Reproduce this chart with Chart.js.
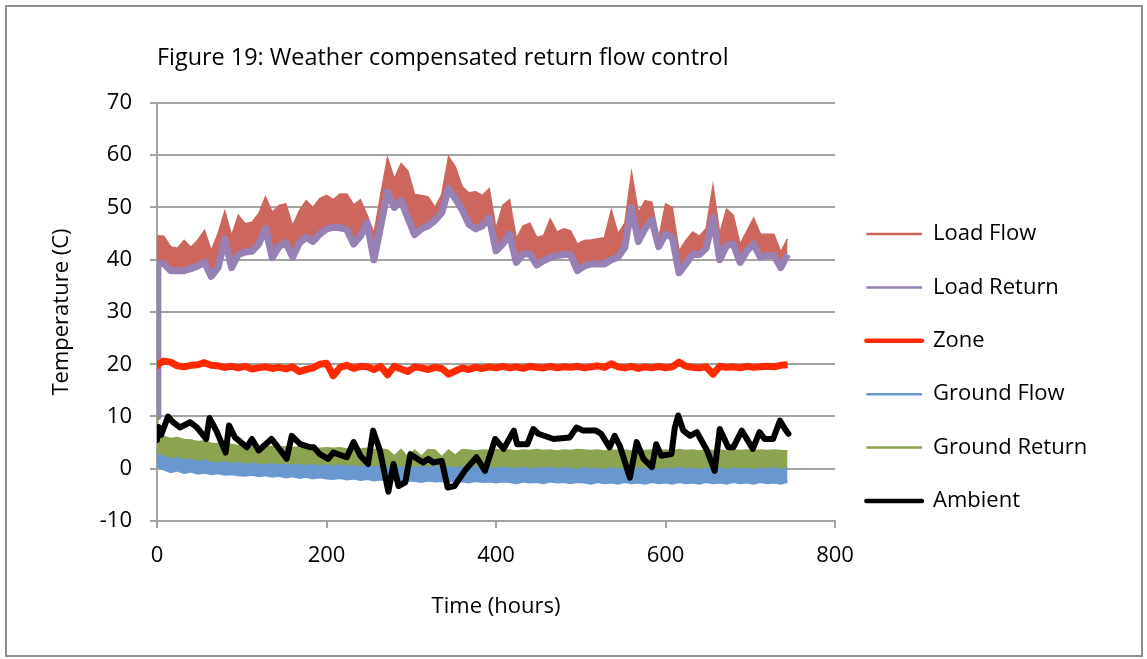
<!DOCTYPE html>
<html>
<head>
<meta charset="utf-8">
<script src="https://cdn.jsdelivr.net/npm/chart.js"></script>
<style>
  html, body { margin: 0; padding: 0; background: #fff; }
  #frame { position: absolute; left: 5px; top: 5px; width: 1134px; height: 648px; border: 2px solid #8e8e8e; }
  #chart { position: absolute; left: 0; top: 0; }
</style>
</head>
<body>
<div id="frame"></div>
<canvas id="chart" width="1147" height="659"></canvas>
<script>
// sample times (hours) shared by the banded series
const hours = [0, 1, 8, 16, 24, 32, 40, 48, 56, 64, 72, 80, 88, 96, 104, 112, 120, 128, 136, 144,
  152, 160, 168, 176, 184, 192, 200, 208, 216, 224, 232, 240, 248, 256, 264, 272, 280, 288, 296, 304,
  312, 320, 328, 336, 344, 352, 360, 368, 376, 384, 392, 400, 408, 416, 424, 432, 440, 448, 456, 464,
  472, 480, 488, 496, 504, 512, 520, 528, 536, 544, 552, 560, 568, 576, 584, 592, 600, 608, 616, 624,
  632, 640, 648, 656, 664, 672, 680, 688, 696, 704, 712, 720, 728, 736, 744];

// upper edge of the load flow band
const loadFlow = [12, 44.6, 44.5, 42.5, 42.2, 43.7, 42.4, 43.7, 45.6, 41.7, 45, 49.3, 44.6, 48.5, 46.9, 47.2, 48.8, 52, 49.1, 50.4,
  50.7, 46.5, 49.4, 51.3, 50, 51.7, 52.3, 51.5, 52.6, 52.6, 50.5, 51.5, 48.5, 45, 52.5, 59.5, 55.5, 58.4, 57, 52.5,
  52.3, 52, 50, 52.5, 59.7, 57.8, 54, 52.8, 53, 52.3, 53.6, 46, 50.4, 51.5, 44, 46.5, 47, 44.3, 44.6, 47.8,
  45.3, 45.9, 45.5, 43, 43.7, 43.8, 44, 44.2, 49.5, 45, 47, 56.7, 49, 51.3, 51, 44, 50.7, 50, 41.7, 43.7,
  45.3, 44.5, 46, 54.2, 45, 49.7, 48.5, 43, 45.5, 48, 44.9, 44.9, 44.9, 41.5, 44];

const loadReturn = [10, 39.3, 39.3, 37.9, 37.9, 37.9, 38.3, 38.8, 39.5, 36.8, 38.5, 44, 38.5, 41, 41.5, 41.6, 43, 46, 40.4, 42.5,
  43.3, 40.5, 43.2, 44.3, 43.5, 44.9, 45.9, 46.2, 46.1, 45.8, 43, 44.5, 47, 40, 46.5, 53, 50, 51.3, 48, 44.8,
  45.9, 46.5, 47.5, 49, 53.6, 51.7, 49.6, 46.8, 45.9, 46.5, 48, 41.7, 43, 44.9, 39.5, 41.1, 41.1, 39, 39.8, 40.4,
  40.8, 41, 41, 37.9, 38.8, 39.2, 39.2, 39.2, 40, 40.5, 42.4, 50, 43.5, 46, 47.6, 42.5, 44.9, 44.3, 37.5, 39.2,
  41, 41, 42.2, 48.1, 40, 42.7, 43, 39.5, 41.7, 43, 40.5, 40.8, 40.8, 38.5, 41];

const zone = [19.8, 20.0, 20.6, 20.4, 19.7, 19.5, 19.8, 19.9, 20.3, 19.8, 19.7, 19.4, 19.6, 19.3, 19.6, 19.1, 19.3, 19.5, 19.2, 19.4,
  19.1, 19.5, 18.6, 19.0, 19.3, 20.0, 20.2, 17.8, 19.4, 19.8, 19.2, 19.6, 19.5, 19.0, 19.6, 18.0, 19.6, 19.1, 18.6, 19.5,
  19.3, 19.0, 19.4, 19.2, 18.1, 18.7, 19.3, 19.0, 19.4, 19.2, 19.5, 19.3, 19.6, 19.3, 19.5, 19.2, 19.6, 19.4, 19.3, 19.6,
  19.3, 19.5, 19.4, 19.6, 19.3, 19.5, 19.7, 19.4, 20.1, 19.5, 19.3, 19.6, 19.2, 19.5, 19.3, 19.6, 19.3, 19.5, 20.4, 19.6,
  19.4, 19.3, 19.5, 18.1, 19.6, 19.4, 19.5, 19.3, 19.6, 19.4, 19.5, 19.6, 19.5, 19.8, 19.9];

// ground loop: top of the flow band, bottom of the flow band, top of the return band
const groundFlowTop = [4.5, 2.8, 2.6, 2.0, 2.3, 1.8, 2.0, 1.5, 1.8, 1.4, 1.2, 1.5, 1.1, 1.3, 1.0, 1.2, 1.0, 0.9, 1.1, 0.8,
  1.0, 0.8, 0.9, 0.7, 0.9, 0.7, 0.8, 0.6, 0.8, 0.6, 0.7, 0.5, 0.7, 0.5, 0.6, 0.5, 0.6, 0.4, 0.6, 0.4,
  0.5, 0.4, 0.6, 0.3, 0.5, 0.3, 0.5, 0.2, 0.4, 0.3, 0.4, 0.2, 0.4, 0.3, 0.2, 0.4, 0.1, 0.3, 0.2, 0.4,
  0.1, 0.3, 0.2, 0.0, 0.3, 0.1, 0.2, 0.0, 0.3, 0.1, 0.2, 0.0, 0.3, 0.1, 0.2, 0.0, 0.2, 0.1, 0.4, 0.1,
  0.2, 0.0, 0.2, 0.1, 0.3, 0.0, 0.2, 0.1, 0.2, 0.0, 0.2, 0.1, 0.3, 0.0, 0.2];

const groundFlowLow = [3.5, 0.3, -0.2, -0.7, -0.4, -0.9, -0.6, -1.0, -0.8, -1.1, -0.9, -1.2, -1.1, -1.3, -1.4, -1.2, -1.5, -1.3, -1.6, -1.4,
  -1.7, -1.5, -1.8, -1.6, -1.9, -1.7, -1.9, -2.0, -1.8, -2.1, -1.9, -2.2, -2.0, -2.3, -2.1, -2.4, -2.2, -2.5, -2.3, -2.4,
  -2.6, -2.3, -2.5, -2.4, -2.6, -2.4, -2.5, -2.7, -2.4, -2.6, -2.5, -2.7, -2.5, -2.6, -2.8, -2.5, -2.7, -2.6, -2.8, -2.5,
  -2.7, -2.6, -2.8, -2.6, -2.7, -2.9, -2.6, -2.8, -2.7, -2.9, -2.6, -2.8, -2.7, -2.9, -2.6, -2.8, -2.7, -2.9, -2.6, -2.8,
  -2.7, -2.9, -2.6, -2.8, -2.7, -2.9, -2.6, -2.8, -2.7, -2.9, -2.6, -2.8, -2.7, -2.9, -2.6];

const groundReturn = [10, 6.5, 6.2, 5.8, 6.0, 5.6, 5.5, 5.2, 5.3, 4.9, 4.8, 4.6, 4.7, 4.4, 4.5, 4.3, 4.4, 4.2, 4.3, 4.1,
  4.2, 4.0, 4.2, 4.0, 4.1, 3.9, 4.0, 3.9, 4.0, 3.8, 3.9, 3.8, 3.9, 3.7, 3.8, 3.6, 2.5, 3.7, 2.2, 3.6,
  2.4, 3.7, 3.6, 2.3, 3.6, 2.6, 3.7, 3.6, 3.4, 3.6, 3.5, 3.7, 3.5, 3.6, 3.4, 3.6, 3.5, 3.7, 3.5, 3.6,
  3.4, 3.6, 3.5, 3.7, 3.6, 3.5, 3.6, 3.4, 3.6, 3.5, 3.6, 3.4, 3.6, 3.5, 3.6, 3.4, 3.6, 3.5, 3.7, 3.5,
  3.6, 3.4, 3.6, 3.5, 3.6, 3.4, 3.6, 3.5, 3.6, 3.4, 3.6, 3.5, 3.6, 3.5, 3.4];

// ambient has its own sample times
const ambientHours = [0, 2, 5, 13, 19, 27, 39, 47, 58, 62, 70, 81, 85, 92, 106, 112, 120, 135, 141, 153,
  159, 169, 181, 185, 192, 202, 208, 224, 232, 240, 249, 255, 263, 273, 279, 285, 293, 299, 307, 314,
  320, 326, 336, 343, 351, 363, 377, 387, 399, 409, 421, 425, 437, 444, 450, 468, 487, 495, 503, 518,
  524, 534, 540, 546, 558, 566, 574, 584, 589, 595, 607, 611, 615, 621, 629, 637, 649, 658, 664, 674,
  680, 690, 703, 711, 717, 727, 735, 741, 745];
const ambient = [5.5, 8.0, 6.5, 10.0, 8.9, 7.9, 8.9, 7.9, 5.7, 9.7, 7.3, 3.1, 8.3, 6.0, 4.1, 5.7, 3.5, 5.7, 4.5, 1.9,
  6.3, 4.7, 4.1, 4.1, 2.8, 1.9, 3.1, 2.2, 5.1, 2.5, 0.9, 7.3, 3.5, -4.4, 0.9, -3.3, -2.6, 2.8, 1.9, 1.2,
  1.9, 1.2, 1.5, -3.6, -3.3, -0.4, 2.2, -0.4, 5.7, 3.8, 7.3, 4.7, 4.7, 7.6, 6.7, 5.7, 6.0, 7.9, 7.3, 7.3,
  6.7, 4.1, 6.3, 4.4, -1.7, 5.1, 1.9, 0.3, 4.7, 2.5, 2.8, 7.9, 10.2, 7.3, 6.3, 7.0, 3.5, -0.4, 7.6, 4.1,
  4.1, 7.3, 3.8, 7.0, 5.7, 5.7, 9.2, 7.6, 6.7];

const seriesNames = ['Load Flow', 'Load Return', 'Zone', 'Ground Flow', 'Ground Return', 'Ambient'];
const legendLineWidths = [2.5, 2.5, 4.5, 2.5, 2.5, 4.5];

const FONT = 'Open Sans';
const FS = 22;
const GRID = '#a3a3a3';
const LEGEND_PAD = 31.4;
const LEGEND_BOX = 55.6;

function pts(xs, ys) {
  return xs.map((x, i) => ({ x: x, y: ys[i] }));
}

// legend sits right of the plot, so work out how much room it needs
const measure = document.createElement('canvas').getContext('2d');
measure.font = FS + 'px "' + FONT + '"';
const longest = Math.max(...seriesNames.map(n => measure.measureText(n).width));
const rightPad = 1147 - 835 - (LEGEND_PAD + LEGEND_BOX + FS / 2 + longest + 10);

const font = { family: '"' + FONT + '"', size: FS, weight: 'normal' };

const config = {
  type: 'line',
  data: {
    datasets: [
      { label: seriesNames[0], data: pts(hours, loadFlow), borderColor: '#cd675d', backgroundColor: '#cd675d',
        borderWidth: 1.5, fill: 1, order: 7 },
      { label: seriesNames[1], data: pts(hours, loadReturn), borderColor: '#9780b4', borderWidth: 7,
        borderJoinStyle: 'round', fill: false, order: 6 },
      { label: seriesNames[2], data: pts(hours, zone), borderColor: '#ff2a00', borderWidth: 7,
        borderJoinStyle: 'round', fill: false, order: 5 },
      { label: seriesNames[3], data: pts(hours, groundFlowTop), borderColor: '#6898cf', backgroundColor: '#6898cf',
        borderWidth: 1.5, fill: 6, order: 3 },
      { label: seriesNames[4], data: pts(hours, groundReturn), borderColor: '#8ca44f', backgroundColor: '#8ca44f',
        borderWidth: 1.5, fill: 3, order: 2 },
      { label: seriesNames[5], data: pts(ambientHours, ambient), borderColor: '#000000', borderWidth: 6,
        borderJoinStyle: 'round', borderCapStyle: 'round', fill: false, order: 0 },
      // lower edge of the ground flow band (not in legend)
      { label: 'gf-low', data: pts(hours, groundFlowLow), borderColor: '#6898cf', borderWidth: 1.5,
        fill: false, order: 8 }
    ]
  },
  options: {
    responsive: false,
    animation: false,
    devicePixelRatio: 1,
    layout: { padding: { left: 40, right: rightPad, top: 0, bottom: 20 } },
    elements: { point: { radius: 0, hoverRadius: 0 }, line: { tension: 0 } },
    plugins: {
      tooltip: { enabled: false },
      title: {
        display: true,
        text: 'Figure 19: Weather compensated return flow control',
        align: 'start',
        fullSize: false,
        color: '#000',
        font: { family: font.family, size: 23.4, weight: 'normal' },
        padding: { top: 43.9, bottom: 31 }
      },
      legend: {
        position: 'right',
        align: 'start',
        fullSize: true,
        // empty title only pushes the entries down to where the reference has them
        title: { display: true, text: '', font: { size: 1, lineHeight: 1 }, padding: { top: 190.6, bottom: 0 } },
        labels: {
          usePointStyle: true,
          pointStyle: 'line',
          pointStyleWidth: LEGEND_BOX,
          padding: LEGEND_PAD,
          color: '#000',
          font: font,
          filter: item => item.datasetIndex < 6,
          sort: (a, b) => a.datasetIndex - b.datasetIndex,
          generateLabels(chart) {
            const items = Chart.defaults.plugins.legend.labels.generateLabels(chart);
            items.forEach(it => {
              it.lineWidth = legendLineWidths[it.datasetIndex];
              it.lineCap = it.lineWidth > 3 ? 'round' : 'butt';
            });
            return items;
          }
        }
      }
    },
    scales: {
      x: {
        type: 'linear',
        min: 0,
        max: 800,
        ticks: { stepSize: 200, color: '#000', font: font, padding: 15, maxRotation: 0 },
        grid: { drawOnChartArea: false, drawTicks: true, tickLength: 7, color: GRID, lineWidth: 2 },
        border: { color: GRID, width: 2 },
        title: { display: true, text: 'Time (hours)', color: '#000', font: font, padding: { top: 0, bottom: 18.8 } },
        afterFit: s => { s.height = 118; }
      },
      y: {
        min: -10,
        max: 70,
        ticks: { stepSize: 10, color: '#000', font: font, padding: 18 },
        grid: { tickLength: 7, color: GRID, lineWidth: 2 },
        border: { color: GRID, width: 2 },
        title: { display: true, text: 'Temperature (C)', color: '#000', font: font, padding: { top: 8.8, bottom: 0 } },
        afterFit: s => { s.width = 117; }
      }
    }
  }
};

new Chart(document.getElementById('chart').getContext('2d'), config);
</script>
</body>
</html>
